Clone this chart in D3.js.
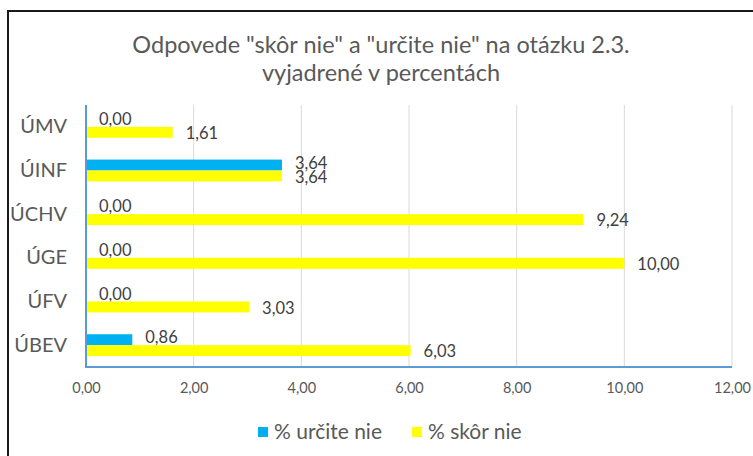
<!DOCTYPE html>
<html>
<head>
<meta charset="utf-8">
<script src="https://cdn.jsdelivr.net/npm/d3@7"></script>
<style>
  body { margin: 0; background: #fff; }
  svg { font-family: Lato, "Open Sans", sans-serif; }
</style>
</head>
<body>
<svg id="chart"></svg>
<script>
let categories = ['ÚMV', 'ÚINF', 'ÚCHV', 'ÚGE', 'ÚFV', 'ÚBEV']
let seriesNames = ['% určite nie', '% skôr nie']
let urciteNie = [0.00, 3.64, 0.00, 0.00, 0.00, 0.86]
let skorNie = [1.61, 3.64, 9.24, 10.00, 3.03, 6.03]
let xTicks = [0, 2, 4, 6, 8, 10, 12]
let colors = ['#00B0F0', '#FFFF00']

let width = 753
let height = 456
let svg = d3.select('#chart').attr('width', width).attr('height', height)

// outer chart frame (cut by the window on right/bottom)
svg.append('path')
  .attr('d', `M8,${height + 5}V11H${width + 5}`)
  .attr('fill', 'none')
  .attr('stroke', '#1a1a1a')
  .attr('stroke-width', 2)

let fmt = (v) => v.toFixed(2).replace('.', ',')

let x = d3.scaleLinear().domain([0, 12]).range([86, 732])
let y = d3.scaleBand().domain(categories).range([105, 367])
  .paddingInner(0.5).paddingOuter(0.25)
let ySub = d3.scaleBand().domain([0, 1]).range([0, y.bandwidth()])

// title
let titleLines = ['Odpovede "skôr nie" a "určite nie" na otázku 2.3.', 'vyjadrené v percentách']
svg.append('g').selectAll('text')
  .data(titleLines)
  .enter().append('text')
  .attr('x', 381).attr('y', (d, i) => 53 + i * 28)
  .attr('text-anchor', 'middle')
  .attr('font-size', 23.5).attr('fill', '#595959')
  .text((d) => d)

// gridlines
svg.append('g').selectAll('line')
  .data(xTicks.slice(1))
  .enter().append('line')
  .attr('x1', (d) => x(d)).attr('x2', (d) => x(d))
  .attr('y1', 105).attr('y2', 367)
  .attr('stroke', '#D9D9D9').attr('stroke-width', 1)

// x axis
let xAxis = svg.append('g')
  .attr('transform', 'translate(0,367)')
  .call(d3.axisBottom(x).tickValues(xTicks).tickFormat(fmt).tickSize(0).tickPadding(16))
xAxis.select('.domain').remove()
xAxis.selectAll('text')
  .attr('font-size', 14.5).attr('fill', '#595959')
  .style('font-family', 'Lato, "Open Sans", sans-serif')

// y axis
let yAxis = svg.append('g')
  .attr('transform', 'translate(86,0)')
  .call(d3.axisLeft(y).tickSize(0).tickPadding(19))
yAxis.select('.domain').remove()
yAxis.selectAll('text')
  .attr('font-size', 20).attr('fill', '#595959')
  .style('font-family', 'Lato, "Open Sans", sans-serif')

// axis lines
svg.append('line')
  .attr('x1', 86).attr('x2', 732).attr('y1', 367).attr('y2', 367)
  .attr('stroke', '#5B9BD5').attr('stroke-width', 2)
svg.append('line')
  .attr('x1', 86).attr('x2', 86).attr('y1', 105).attr('y2', 368)
  .attr('stroke', '#5B9BD5').attr('stroke-width', 2)

// bars
let series = [urciteNie, skorNie]
series.forEach((vals, si) => {
  let g = svg.append('g')
  g.selectAll('rect')
    .data(categories)
    .enter().append('rect')
    .attr('x', x(0) + 1)
    .attr('y', (c) => y(c) + ySub(si))
    .attr('width', (c, i) => Math.max(0, x(vals[i]) - x(0) - 1))
    .attr('height', ySub.bandwidth())
    .attr('fill', colors[si])
  g.selectAll('text')
    .data(categories)
    .enter().append('text')
    .attr('x', (c, i) => x(vals[i]) + 13)
    .attr('y', (c) => y(c) + ySub(si) + ySub.bandwidth() / 2 - (si === 0 ? 2 : -1))
    .attr('dy', '0.35em')
    .attr('font-size', 16.5).attr('fill', '#404040')
    .text((c, i) => fmt(vals[i]))
})

// legend
let legend = svg.append('g').attr('transform', 'translate(258,432)')
let legendX = [0, 154]
seriesNames.forEach((name, i) => {
  legend.append('rect')
    .attr('x', legendX[i]).attr('y', -5)
    .attr('width', 10).attr('height', 10)
    .attr('fill', colors[i])
  legend.append('text')
    .attr('x', legendX[i] + 16).attr('y', 0)
    .attr('dy', '0.35em')
    .attr('font-size', 21).attr('fill', '#595959')
    .text(name)
})
</script>
</body>
</html>
